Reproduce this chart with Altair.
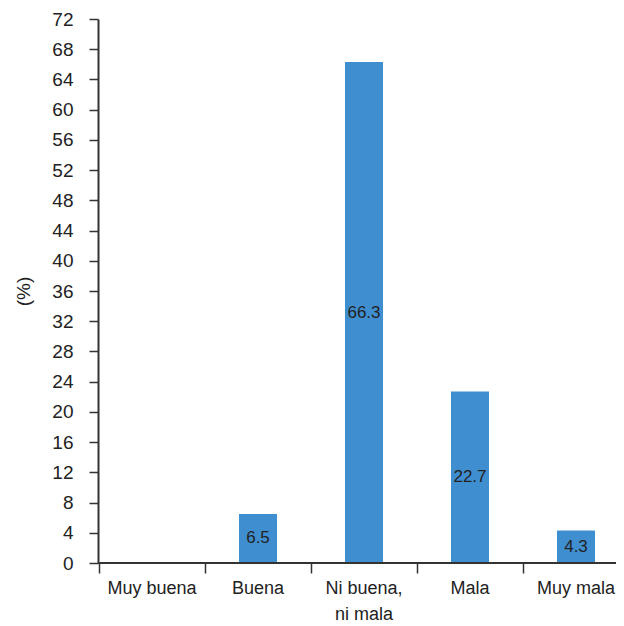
import altair as alt
import pandas as pd

categories = ["Muy buena", "Buena", "Ni buena,\nni mala", "Mala", "Muy mala"]
values = [0, 6.5, 66.3, 22.7, 4.3]
labels = ["", "6.5", "66.3", "22.7", "4.3"]
y_ticks = list(range(0, 73, 4))

df = pd.DataFrame({"cat": categories, "val": values, "lab": labels})

FONT = "Liberation Sans, Arial, sans-serif"
W = 518
H = 544

xscale = alt.Scale(domain=categories, range=[1, 531], paddingInner=0, paddingOuter=0)
yscale = alt.Scale(domain=[0, 72], nice=False, zero=True)

xaxis = alt.Axis(title=None, domain=False, labelAngle=0, bandPosition=0,
                 ticks=True, tickSize=10, tickColor="#333", tickWidth=1.5,
                 labelFont=FONT, labelFontSize=18, labelColor="#222",
                 labelPadding=6, labelLineHeight=26, labelOverlap=False,
                 labelExpr="split(datum.value, '\\n')")
yaxis = alt.Axis(title="(%)", values=y_ticks, grid=False, labelOverlap=False,
                 domain=True, domainColor="#333", domainWidth=2,
                 tickSize=9, tickColor="#333", tickWidth=1.5,
                 labelFont=FONT, labelFontSize=19, labelColor="#222",
                 labelPadding=16, titleFont=FONT, titleFontSize=19,
                 titleFontWeight="normal", titleColor="#222",
                 titlePadding=18)

bars = alt.Chart(df).mark_bar(color="#3F8ED0", size=38).encode(
    x=alt.X("cat:N", scale=xscale, sort=categories, axis=xaxis),
    y=alt.Y("val:Q", scale=yscale, axis=yaxis),
)

text = alt.Chart(df).mark_text(font=FONT, fontSize=17, color="#222",
                               baseline="middle", align="center").encode(
    x=alt.X("cat:N", scale=xscale, sort=categories, axis=xaxis),
    y=alt.Y("mid:Q", scale=yscale, axis=yaxis),
    text="lab:N",
).transform_calculate(mid="datum.val / 2")

baseline = alt.Chart(df).mark_rule(color="#333", strokeWidth=2).encode(
    y=alt.Y("z:Q", scale=yscale, axis=yaxis),
    x=alt.value(0),
    x2=alt.value(W + 10),
).transform_calculate(z="0")

chart = alt.layer(bars, text, baseline).properties(
    width=W, height=H,
    background="white",
    autosize=alt.AutoSizeParams(type="none"),
    padding={"left": 90, "top": 11, "right": 0, "bottom": 60},
).configure_view(stroke="transparent", strokeWidth=0)

chart.save("out.html", embed_options={"renderer": "svg", "actions": False})
